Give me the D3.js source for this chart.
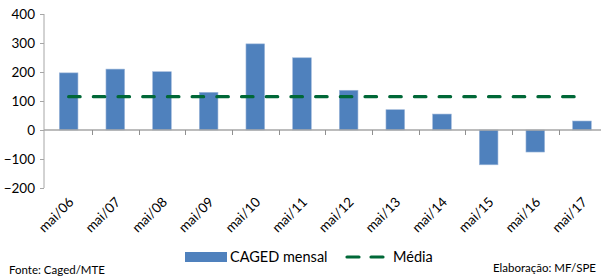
<!DOCTYPE html>
<html>
<head>
<meta charset="utf-8">
<script src="https://cdn.jsdelivr.net/npm/d3@7"></script>
<style>
  html, body { margin: 0; padding: 0; background: #fff; }
  svg { display: block; font-family: Lato, "Open Sans", sans-serif; }
</style>
</head>
<body>
<svg id="chart" width="601" height="279"></svg>
<script>
const categories = ["mai/06","mai/07","mai/08","mai/09","mai/10","mai/11","mai/12","mai/13","mai/14","mai/15","mai/16","mai/17"];
const cagedMensal = [197, 210, 201, 130, 297, 249, 137, 70, 55, -120, -76, 31];
const media = [115, 115, 115, 115, 115, 115, 115, 115, 115, 115, 115, 115];
const yTicks = [-200, -100, 0, 100, 200, 300, 400];
const legendLabels = ["CAGED mensal", "Média"];
const sourceText = "Fonte: Caged/MTE";
const creditText = "Elaboração: MF/SPE";

const svg = d3.select("#chart");
const axisColor = "#a6a6a6";
const barColor = "#4f81bd";
const lineColor = "#006837";

const x = d3.scaleBand().domain(categories).range([45.3, 605.3]).paddingInner(0.6).paddingOuter(0.3);
const y = d3.scaleLinear().domain([-200, 400]).range([188, 14]);

// y axis
const yAxis = svg.append("g").attr("transform", "translate(44,0)")
  .call(d3.axisLeft(y).tickValues(yTicks).tickSize(4).tickPadding(5).tickFormat(d3.format("d")));
yAxis.select(".domain").attr("stroke", axisColor).attr("d", `M0,${y(400)}V${y(-200)}`);
yAxis.selectAll(".tick line").attr("stroke", axisColor);
yAxis.selectAll(".tick text").attr("fill", "#000").style("font-size", "13.5px")
  .style("font-family", "Lato, sans-serif");

// bars
svg.append("g").selectAll("rect").data(categories).join("rect")
  .attr("x", d => x(d))
  .attr("width", x.bandwidth())
  .attr("y", (d, i) => y(Math.max(0, cagedMensal[i])))
  .attr("height", (d, i) => Math.abs(y(cagedMensal[i]) - y(0)))
  .attr("fill", barColor)
  .attr("stroke", "#9fb8da").attr("stroke-width", 0.6);

// x axis at zero
const step = x.step();
const x0 = 45.3;
svg.append("line").attr("x1", 44).attr("x2", 601).attr("y1", y(0)).attr("y2", y(0))
  .attr("stroke", axisColor).attr("stroke-width", 1.5);
svg.append("g").selectAll("line").data(d3.range(1, categories.length + 1)).join("line")
  .attr("x1", i => Math.round(x0 + i * step) + 0.5).attr("x2", i => Math.round(x0 + i * step) + 0.5)
  .attr("y1", y(0)).attr("y2", y(0) + 5).attr("stroke", "#909090");

// x labels
svg.append("g").selectAll("text").data(categories).join("text")
  .attr("transform", d => `translate(${x(d) + x.bandwidth() / 2 + 6},${203}) rotate(-45)`)
  .attr("text-anchor", "end")
  .style("font-size", "13.5px")
  .text(d => d);

// media line
const line = d3.line().x((d, i) => x(categories[i]) + x.bandwidth() / 2).y(d => y(d));
svg.append("path").datum(media).attr("d", line)
  .attr("fill", "none").attr("stroke", lineColor).attr("stroke-width", 3.2)
  .attr("stroke-dasharray", "11.5,13.2").attr("stroke-linecap", "round");

// legend
const lg = svg.append("g");
lg.append("rect").attr("x", 185).attr("y", 252).attr("width", 42).attr("height", 10).attr("fill", barColor);
lg.append("text").attr("x", 230).attr("y", 262).style("font-size", "14.5px").text(legendLabels[0]);
lg.append("line").attr("x1", 347).attr("x2", 386).attr("y1", 257).attr("y2", 257)
  .attr("stroke", lineColor).attr("stroke-width", 3.2).attr("stroke-dasharray", "12,12").attr("stroke-linecap", "round");
lg.append("text").attr("x", 393).attr("y", 262).style("font-size", "14.5px").text(legendLabels[1]);

// footer
svg.append("text").attr("x", 9).attr("y", 274).style("font-size", "11.5px").text(sourceText);
svg.append("text").attr("x", 596).attr("y", 272).attr("text-anchor", "end").style("font-size", "11.5px").text(creditText);
</script>
</body>
</html>
